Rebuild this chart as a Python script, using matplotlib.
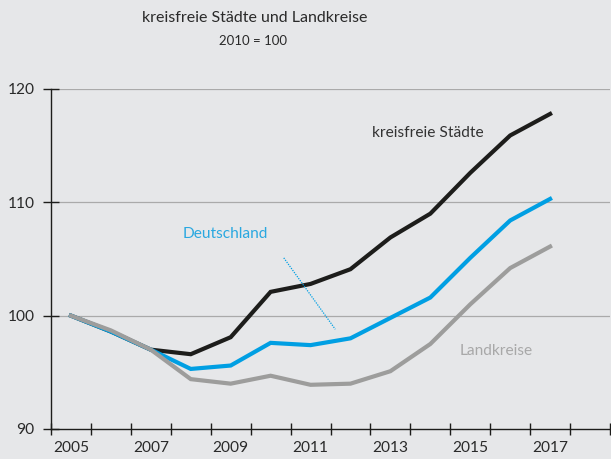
import matplotlib
matplotlib.use("Agg")
import matplotlib.pyplot as plt

years = list(range(2005, 2018))
staedte = [100.0, 98.6, 97.0, 96.6, 98.1, 102.1, 102.8, 104.1, 106.9, 109.0, 112.6, 115.9, 117.8]
deutschland = [100.0, 98.6, 97.0, 95.3, 95.6, 97.6, 97.4, 98.0, 99.8, 101.6, 105.1, 108.4, 110.3]
landkreise = [100.0, 98.7, 97.0, 94.4, 94.0, 94.7, 93.9, 94.0, 95.1, 97.5, 101.0, 104.2, 106.1]
yticks = [90, 100, 110, 120]
xlabels = [2005, 2007, 2009, 2011, 2013, 2015, 2017]

BG = "#e6e7e9"
C_BLACK = "#1d1d1b"
C_BLUE = "#009fe3"
C_GRAY = "#9d9d9c"
C_TEXT = "#2a2a2a"

plt.rcParams["font.family"] = ["Lato", "DejaVu Sans"]

fig = plt.figure(figsize=(6.11, 4.59), dpi=100, facecolor=BG)
ax = fig.add_axes([51 / 611, 30 / 459, 559 / 611, 340 / 459])
ax.set_facecolor(BG)

ax.set_xlim(2004.5, 2018.5)
ax.set_ylim(90, 120)

for v in yticks[1:]:
    ax.axhline(v, color="#aaaaaa", lw=0.9, zorder=1)

ax.plot(years, staedte, color=C_BLACK, lw=3.0, zorder=3, solid_joinstyle="miter")
ax.plot(years, deutschland, color=C_BLUE, lw=3.0, zorder=4, solid_joinstyle="miter")
ax.plot(years, landkreise, color=C_GRAY, lw=3.0, zorder=5, solid_joinstyle="miter")

for s in ["top", "right"]:
    ax.spines[s].set_visible(False)
ax.spines["left"].set_color(C_BLACK)
ax.spines["bottom"].set_color(C_BLACK)
ax.spines["left"].set_linewidth(1.0)
ax.spines["bottom"].set_linewidth(1.0)

fs = 11.2
ax.set_yticks(yticks)
ax.set_yticklabels([str(v) for v in yticks], fontsize=fs, color=C_TEXT)
ax.set_xticks([2004.5 + i for i in range(15)], minor=False)
ax.set_xticklabels([])
ax.set_xticks(xlabels, minor=True)
ax.set_xticklabels([str(y) for y in xlabels], minor=True, fontsize=fs, color=C_TEXT)
ax.tick_params(axis="x", which="major", direction="inout", length=8, width=1.0, color=C_BLACK)
ax.tick_params(axis="x", which="minor", length=0, pad=9)
ax.tick_params(axis="y", direction="inout", length=12, width=1.0, color=C_BLACK, pad=6)

ax.text(2012.55, 116.1, "kreisfreie Städte", fontsize=fs, color="#333333", ha="left", va="center")
ax.text(2007.8, 107.2, "Deutschland", fontsize=fs, color="#2aa8e0", ha="left", va="center")
ax.text(2014.73, 96.9, "Landkreise", fontsize=fs, color="#a8a8a8", ha="left", va="center")
ax.plot([2010.33, 2011.62], [105.1, 98.8], color=C_BLUE, lw=0.9, ls=(0, (1, 1)), zorder=6)

fig.text(255 / 611, 1 - 18 / 459, "kreisfreie Städte und Landkreise", ha="center", va="center",
         fontsize=11.5, color=C_TEXT)
fig.text(253 / 611, 1 - 41 / 459, "2010 = 100", ha="center", va="center", fontsize=9.5, color=C_TEXT)

fig.savefig("out.png", dpi=100, facecolor=BG)
